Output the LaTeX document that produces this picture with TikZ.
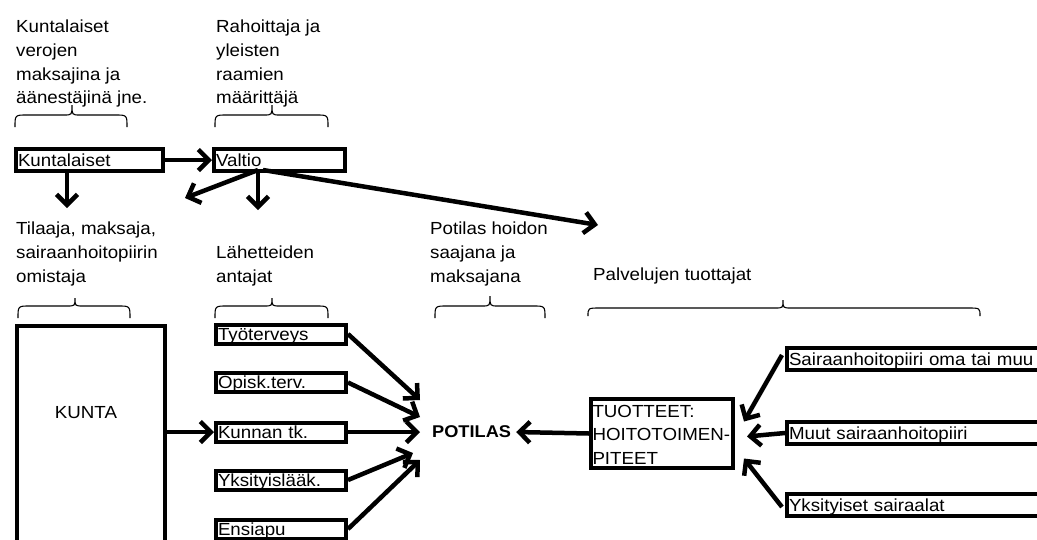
\documentclass[tikz,border=0pt]{standalone}
\usepackage{fontspec}
\setmainfont{Liberation Sans}[FakeStretch=1.07]
\usetikzlibrary{arrows.meta,calc}

% curly brace opening downwards: x-left, x-right, x-tip, y-tip, y-line, y-ends
\newcommand\openbrace[6]{%
  \draw[brc] (#1,#6) .. controls (#1,#5) .. ({#1+12},#5)
    -- ({#3-8},#5) .. controls (#3,#5) .. (#3,#4)
    .. controls (#3,#5) .. ({#3+8},#5)
    -- ({#2-12},#5) .. controls (#2,#5) .. (#2,#6);}

\begin{document}
\begin{tikzpicture}[x=1pt,y=-1pt,
  every node/.style={font=\fontsize{17.5}{23.6}\selectfont},
  box/.style={draw, line width=4pt, inner xsep=2pt, inner ysep=0pt,
              text height=13pt, text depth=1pt,
              minimum height=22pt, align=left, anchor=west},
  lbox/.style={box, text width=126pt, minimum height=19pt},
  rbox/.style={box, text width=290pt},
  txt/.style={anchor=north west, inner sep=0pt, align=left},
  arr/.style={line width=4.5pt, -{Straight Barb[length=10.5pt,width=21pt]}},
  brc/.style={line width=1.1pt}
]
\useasboundingbox (0,0) rectangle (1037,539);
\clip (0,0) rectangle (1037,539);

% headings
\node[txt] (h1) at (16,20) {Kuntalaiset\\verojen\\maksajina ja\\äänestäjinä jne.};
\node[txt] (h2) at (216,20) {Rahoittaja ja\\yleisten\\raamien\\määrittäjä};
\node[txt] (h3) at (16,222) {Tilaaja, maksaja,\\sairaanhoitopiirin\\omistaja};
\node[txt] (h4) at (216,245.6) {Lähetteiden\\antajat};
\node[txt] (h5) at (430,222) {Potilas hoidon\\saajana ja\\maksajana};
\node[txt] (h6) at (593,268) {Palvelujen tuottajat};

% braces
\openbrace{15}{127}{72}{105}{115}{127}
\openbrace{215}{328}{272}{105}{115}{127}
\openbrace{18}{130}{75}{298}{306}{318}
\openbrace{215}{328}{272}{298}{306}{318}
\openbrace{435}{545}{490}{296}{306}{318}
\openbrace{588}{980}{783}{300}{308}{316}

% top row
\node[box, text width=143pt] (kl) at (14,160) {Kuntalaiset};
\node[box, text width=127pt] (valtio) at (212,160) {Valtio};

% municipality
\node[draw, line width=4pt, inner sep=0pt, minimum width=148pt,
      minimum height=300pt, anchor=north west] (kunta) at (15,324) {};
\node (kuntanimi) at (86,413) {KUNTA};

% referrers
\node[lbox] (tyo)    at (214,334)   {Työterveys};
\node[lbox] (opisk)  at (214,382.5) {Opisk.terv.};
\node[lbox] (kunnan) at (214,432)   {Kunnan tk.};
\node[lbox] (yksl)   at (214,480)   {Yksityislääk.};
\node[lbox] (ensi)   at (214,529)   {Ensiapu};

% patient
\node[inner sep=0pt, anchor=west, font=\bfseries\fontsize{17}{23.6}\selectfont]
  (potilas) at (432,432) {POTILAS};

% products and producers
\node[box, inner xsep=1.5pt, text width=139pt, text height=13pt, text depth=46pt,
      minimum height=69pt, anchor=north west]
  (tuot) at (589,397) {TUOTTEET:\\\mbox{HOITOTOIMEN-}\\PITEET};
\node[rbox] (sair) at (785,359) {Sairaanhoitopiiri oma tai muu};
\node[rbox] (muut) at (785,433) {Muut sairaanhoitopiiri};
\node[rbox] (yksi) at (785,505) {Yksityiset sairaalat};

% free arrow ends
\coordinate (kd) at (67,208);
\coordinate (vf) at ($(valtio.south west)+(46,-3)$);
\coordinate (vl) at (185,198);
\coordinate (vd) at (258,210);
\coordinate (vr) at (598,225);

% arrows
\draw[arr] (kl.east) -- (valtio.west);
\draw[arr] (kl.south -| kd) -- (kd);
\draw[arr] (vf) -- (vl);
\draw[arr] (vf) -- (vd);
\draw[arr] ($(vf)+(5,0)$) -- (vr);
\draw[arr] (kunta.east |- kunnan) -- (kunnan.west);

\draw[arr] (tyo.east)    -- ($(potilas.west)+(-12,-32)$);
\draw[arr] (opisk.east)  -- ($(potilas.west)+(-12,-15)$);
\draw[arr] (kunnan.east) -- ($(potilas.west)+(-12,0)$);
\draw[arr] (yksl.east)   -- ($(potilas.west)+(-19,21)$);
\draw[arr] (ensi.east)   -- ($(potilas.west)+(-12,28)$);

\draw[arr] (tuot.west) -- ($(potilas.east)+(5,0)$);
\draw[arr] ($(sair.west)+(-3,-4)$) -- ($(tuot.east)+(9,-12)$);
\draw[arr] (muut.west) -- ($(tuot.east)+(12,3)$);
\draw[arr] ($(yksi.west)+(-3,2)$) -- ($(tuot.east)+(9,25)$);
\end{tikzpicture}
\end{document}
